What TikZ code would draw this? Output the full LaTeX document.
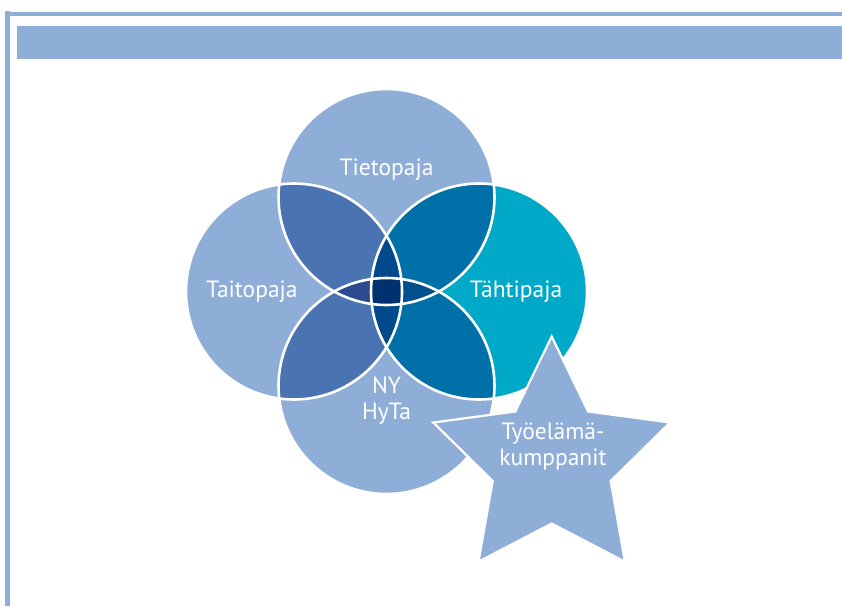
\documentclass[tikz,border=0pt]{standalone}
\usepackage{fontspec}
\setmainfont{PT Sans}
\definecolor{lightblue}{HTML}{8EAED8}
\definecolor{cyanc}{HTML}{00A9C8}
\definecolor{lensLT}{HTML}{4A73B2}
\definecolor{lensR}{HTML}{0071A8}
\definecolor{tbl}{HTML}{2B4A90}
\definecolor{tbr}{HTML}{00508E}
\definecolor{lrtb}{HTML}{004A8B}
\definecolor{centerc}{HTML}{00316F}
\tikzset{
  lbl/.style={text=white, font=\fontsize{23.5}{26}\selectfont, align=center, inner sep=0pt},
  sep/.style={draw=white, line width=2.6pt},
}
\begin{document}
\begin{tikzpicture}[x=1pt,y=-1pt]
\useasboundingbox (0,0) rectangle (842,606);
\fill[white] (0,0) rectangle (842,606);
% frame
\draw[lightblue, line width=4.5pt] (7.5,11) -- (7.5,606);
\draw[lightblue, line width=4pt] (5,13.5) -- (842,13.5);
\fill[lightblue] (17,26) rectangle (842,59);
% circle centres
\coordinate (cT) at (386.5,197);
\coordinate (cL) at (294,291.5);
\coordinate (cR) at (479,291.5);
\coordinate (cB) at (386.5,386);
\def\rr{108pt}
% base fills
\fill[lightblue] (cT) circle (\rr);
\fill[lightblue] (cL) circle (\rr);
\fill[lightblue] (cB) circle (\rr);
\fill[cyanc] (cR) circle (\rr);
% pairwise
\begin{scope}\clip (cT) circle (\rr); \fill[lensLT] (cL) circle (\rr); \fill[lensR] (cR) circle (\rr); \end{scope}
\begin{scope}\clip (cB) circle (\rr); \fill[lensLT] (cL) circle (\rr); \fill[lensR] (cR) circle (\rr); \end{scope}
% triples
\begin{scope}\clip (cT) circle (\rr); \clip (cB) circle (\rr); \fill[tbl] (cL) circle (\rr); \fill[tbr] (cR) circle (\rr); \end{scope}
\begin{scope}\clip (cL) circle (\rr); \clip (cR) circle (\rr); \fill[lrtb] (cT) circle (\rr); \fill[lrtb] (cB) circle (\rr); \end{scope}
% all four
\begin{scope}\clip (cL) circle (\rr); \clip (cR) circle (\rr); \clip (cT) circle (\rr); \fill[centerc] (cB) circle (\rr); \end{scope}
% white separators
\draw[sep] (cT) circle (\rr);
\draw[sep] (cL) circle (\rr);
\draw[sep] (cR) circle (\rr);
\draw[sep] (cB) circle (\rr);
% star
\fill[lightblue, draw=white, line width=2.2pt, line join=miter]
  (551.7,336.5) -- (588.1,411.5) -- (670.1,422.5) -- (610.7,481) -- (624.9,561.7)
  -- (551.7,523.5) -- (478.5,561.7) -- (492.7,481) -- (433.3,422.5) -- (515.3,411.5) -- cycle;
% labels
\node[lbl] (tieto) at (386.5,170) {Tietopaja};
\node[lbl] (taito) at (252,292) {Taitopaja};
\node[lbl] (tahti) at (516,292) {Tähtipaja};
\node[lbl] (ny) at (386.5,401) {NY\\HyTa};
\node[lbl] (tyo) at (553,447) {Työelämä-\\kumppanit};
\end{tikzpicture}
\end{document}
